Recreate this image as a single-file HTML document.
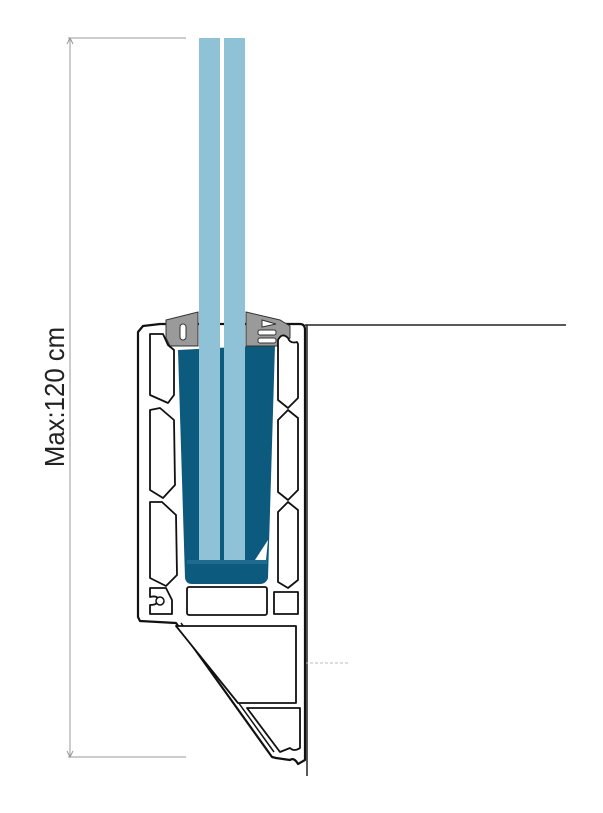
<!DOCTYPE html>
<html><head><style>html,body{margin:0;padding:0;background:#fff;}svg{display:block}</style></head>
<body>
<svg width="603" height="813" viewBox="0 0 603 813" xmlns="http://www.w3.org/2000/svg">
<g stroke="#999" stroke-width="1" fill="none">
<line x1="68" y1="38" x2="186" y2="38"/>
<line x1="68" y1="757" x2="186" y2="757"/>
<line x1="70" y1="38" x2="70" y2="757"/>
<path d="M67,44 L70,38 L73,44 M67,751 L70,757 L73,751"/>
</g>
<text transform="translate(64,397) rotate(-90) scale(0.92,1)" text-anchor="middle" font-family="Liberation Sans, sans-serif" font-size="28" fill="#222">Max:120 cm</text>
<line x1="305" y1="325" x2="566" y2="325" stroke="#222" stroke-width="1.5"/>
<line x1="307" y1="325" x2="307" y2="776" stroke="#222" stroke-width="1.5"/>
<line x1="265" y1="663" x2="350" y2="663" stroke="#bbb" stroke-width="1" stroke-dasharray="3,2"/>
<path d="M143,326 L160,324 L300,324 Q305,324 305,330 L305,760 L298,764 Q294,757 290,760 L276,758 L272,757 L176,623 L140,621 L138,617 L138,332 Z" fill="#fff" stroke="#111" stroke-width="2.2" stroke-linejoin="round"/>
<path d="M181,623 L274,752" stroke="#111" stroke-width="1.5"/>
<path d="M178,350 L275,345 L268,578 Q266,584 260,584 L192,584 Q186,584 185,578 Z" fill="#0d5a7f"/>
<path d="M255,560 L268,540 L266,560 Z" fill="#fff"/>
<rect x="187" y="560" width="80" height="4" fill="#1e6b8f"/>
<path d="M166,320 L198,312 L198,346 L170,346 L166,338 Z" fill="#9a9a9a" stroke="#333" stroke-width="1"/>
<path d="M246,312 L280,320 L290,326 L290,338 L282,346 L246,346 Z" fill="#9a9a9a" stroke="#333" stroke-width="1"/>
<rect x="180" y="324" width="6" height="16" rx="3" fill="#fff" stroke="#333"/>
<rect x="258" y="330" width="18" height="5" rx="2" fill="#fff" stroke="#333"/>
<rect x="258" y="338" width="18" height="5" rx="2" fill="#fff" stroke="#333"/>
<path d="M262,320 L276,324 L262,327 Z" fill="#fff" stroke="#333"/>
<rect x="199" y="38" width="21" height="522" fill="#8fc2d7"/>
<rect x="224" y="38" width="21" height="522" fill="#8fc2d7"/>
<g fill="#fff" stroke="#111" stroke-width="1.8" stroke-linejoin="round">
<path d="M150,334 L163,334 L168,345 L174,350 L174,395 L168,403 L150,395 Z"/>
<path d="M150,410 L160,408 L174,420 L175,485 L163,498 L150,490 Z"/>
<path d="M150,502 L162,502 L176,515 L177,575 L166,586 L150,578 Z"/>
<path d="M150,588 L166,588 L172,600 L172,614 L150,614 L150,605 Q158,605 158,600 Q158,595 150,597 Z"/>
<rect x="187" y="587" width="80" height="28" rx="2"/>
<path d="M278,340 Q282,332 288,338 Q290,344 297,342 L298,344 L298,398 L288,408 L278,400 Z"/>
<path d="M278,420 L288,410 L298,418 L298,490 L288,500 L278,492 Z"/>
<path d="M278,512 L288,502 L298,510 L298,580 L288,588 L278,582 Z"/>
<path d="M274,592 L298,592 L298,614 L274,614 Z"/>
<path d="M176,626 L296,626 L296,703 L238,703 Z"/>
<path d="M247,708 L300,708 L300,748 Q294,752 290,748 L280,752 Z"/>
</g>
<circle cx="160" cy="601" r="4" fill="#fff" stroke="#111" stroke-width="1.5"/>
</svg>
</body></html>
